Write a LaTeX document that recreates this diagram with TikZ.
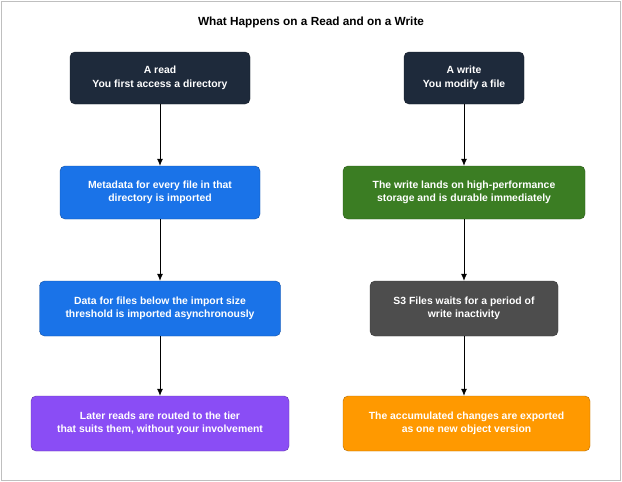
\documentclass[tikz,border=0pt]{standalone}
\usepackage{fontspec}
\setmainfont{Liberation Sans}
\usetikzlibrary{arrows.meta}
\definecolor{navy}{HTML}{1E2A3B}
\definecolor{bblue}{HTML}{1A73E8}
\definecolor{purp}{HTML}{8A4DF5}
\definecolor{grn}{HTML}{3B7D23}
\definecolor{gry}{HTML}{4D4D4D}
\definecolor{org}{HTML}{FF9900}
\begin{document}
\begin{tikzpicture}[x=1pt,y=-1pt,
  box/.style={draw=#1!70!black,fill=#1,rounded corners=5pt,text=white,font=\bfseries\fontsize{10.4}{13.5}\selectfont,align=center,inner sep=0pt},
  arr/.style={-{Latex[length=7pt,width=6pt]},line width=0.8pt}]
\useasboundingbox (0,0) rectangle (622,482);
\draw[gray!50,fill=white] (1,1) rectangle (620,480);
\node[font=\bfseries\fontsize{11.8}{14}\selectfont] (t) at (311,22) {What Happens on a Read and on a Write};
\node[box=navy,minimum width=180pt,minimum height=52pt] (l1) at (160,78) {A read\\You first access a directory};
\node[box=bblue,minimum width=200pt,minimum height=53pt] (l2) at (160,192.5) {Metadata for every file in that\\directory is imported};
\node[box=bblue,minimum width=241pt,minimum height=55pt] (l3) at (160,308.5) {Data for files below the import size\\threshold is imported asynchronously};
\node[box=purp,minimum width=258pt,minimum height=55pt] (l4) at (160,423.5) {Later reads are routed to the tier\\that suits them, without your involvement};
\node[box=navy,minimum width=120pt,minimum height=52pt] (r1) at (464,78) {A write\\You modify a file};
\node[box=grn,minimum width=242pt,minimum height=53pt] (r2) at (464,192.5) {The write lands on high-performance\\storage and is durable immediately};
\node[box=gry,minimum width=188pt,minimum height=55pt] (r3) at (464,308.5) {S3 Files waits for a period of\\write inactivity};
\node[box=org,minimum width=247pt,minimum height=55pt] (r4) at (466.5,423.5) {The accumulated changes are exported\\as one new object version};
\draw[arr] (l1) -- (l2); \draw[arr] (l2) -- (l3); \draw[arr] (l3) -- (l4);
\draw[arr] (r1) -- (r2); \draw[arr] (r2) -- (r3); \draw[arr] (r3.south) -- (r3.south |- r4.north);
\end{tikzpicture}
\end{document}
